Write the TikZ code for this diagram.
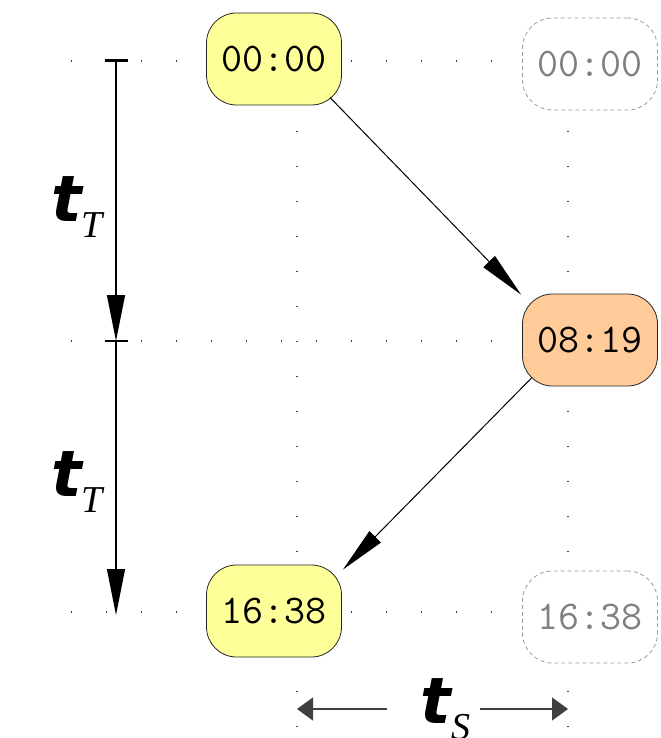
\documentclass[tikz,border=0pt]{standalone}
\usepackage{fontspec}
\usetikzlibrary{arrows.meta}
\newfontfamily\heavyfont{DejaVu Sans}
\newfontfamily\subfont{Liberation Serif}

\definecolor{clockyellow}{HTML}{FFFF99}
\definecolor{clockorange}{HTML}{FFCC99}

\newcommand{\tsym}[1]{{\heavyfont\bfseries\itshape\fontsize{32}{32}\selectfont t}\raisebox{-8pt}{\subfont\itshape\fontsize{19}{19}\selectfont #1}}

\tikzset{clock/.style={rounded corners=15pt,minimum width=67.5pt,minimum height=46pt,inner sep=0pt,line width=0.4pt,font=\ttfamily\fontsize{20.4}{20.4}\selectfont},
         shown/.style={clock,draw=black!85},
         ghost/.style={clock,draw=gray!80,dash pattern=on 2pt off 1.5pt,text=gray,fill=white},
         dotline/.style={draw=black!75,line width=0.7pt,dash pattern=on 0.6pt off 16.9pt},
         hop/.style={-{Triangle[length=23pt,width=8pt]},line width=0.5pt},
         span/.style={-{Triangle[length=23pt,width=9pt]},line width=0.6pt},
         side/.style={-{Triangle[length=8pt,width=11.5pt]},line width=0.6pt,draw=black!75,fill=black}}

\begin{document}
\begin{tikzpicture}[x=0.5pt,y=-0.5pt]
  \useasboundingbox (0,0) rectangle (660,738);

  % dotted guide lines
  \draw[dotline] (71,61) -- (522,61);
  \draw[dotline] (71,341) -- (522,341);
  \draw[dotline] (71,612) -- (522,612);
  \draw[dotline] (297,61) -- (297,730);
  \draw[dotline] (568,61) -- (568,730);

  % clocks
  \node[shown,fill=clockyellow] (start) at (274,59) {00:00};
  \node[shown,fill=clockorange] (half) at (590,340) {08:19};
  \node[shown,fill=clockyellow] (stop) at (274,611) {16:38};
  \node[ghost] (startcopy) at (590,64) {00:00};
  \node[ghost] (stopcopy) at (590,617) {16:38};

  \draw[hop] ([shift={(-12,-8)}]start.south east) -- ([shift={(-1,1)}]half.north west);
  \draw[hop] ([shift={(10,-9)}]half.south west) -- ([shift={(1,5)}]stop.north east);

  % time steps
  \coordinate (t0) at (116,61);
  \coordinate (t1) at (116,341);
  \coordinate (t2) at (116,615);
  \draw[span] (t0) -- (t1);
  \draw[span] (t1) -- (t2);
  \draw[line width=1.5pt] ([xshift=-5.75pt]t0) -- ([xshift=5.75pt]t0);
  \draw[line width=1pt] ([xshift=-5.75pt]t1) -- ([xshift=5.75pt]t1);
  \node[anchor=base west,inner sep=0pt] (tt1) at (51,221) {\tsym{T}};
  \node[anchor=base west,inner sep=0pt] (tt2) at (51,496) {\tsym{T}};

  % space step
  \coordinate (s0) at (297,709);
  \coordinate (s1) at (568,709);
  \coordinate (sl) at (387,709);
  \coordinate (sr) at (480,709);
  \draw[side] (sl) -- (s0);
  \draw[side] (sr) -- (s1);
  \node[anchor=base west,inner sep=0pt] (ts) at (420,723) {\tsym{S}};
\end{tikzpicture}
\end{document}
